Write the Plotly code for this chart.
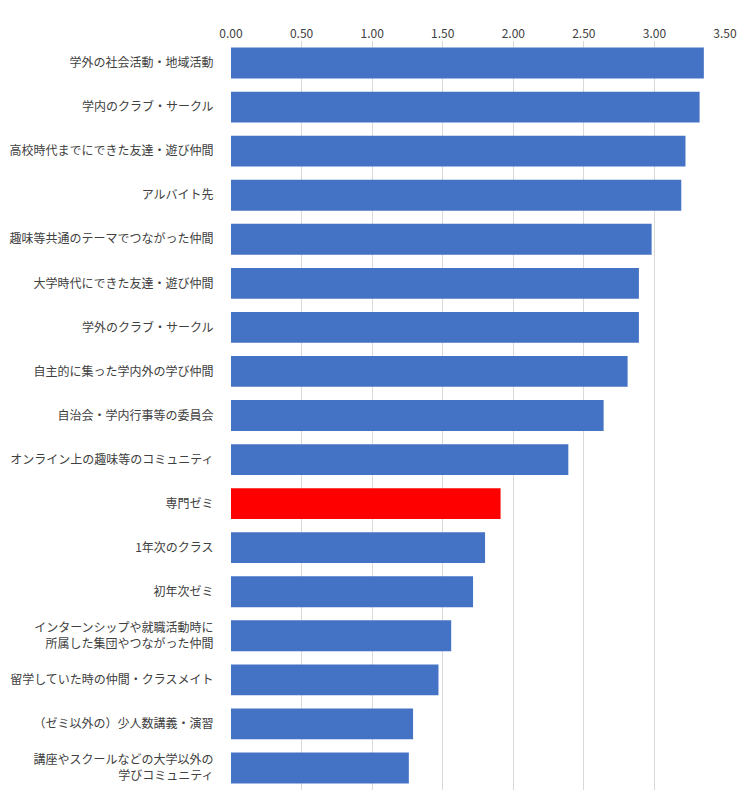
import plotly.graph_objects as go

categories = [
    "学外の社会活動・地域活動",
    "学内のクラブ・サークル",
    "高校時代までにできた友達・遊び仲間",
    "アルバイト先",
    "趣味等共通のテーマでつながった仲間",
    "大学時代にできた友達・遊び仲間",
    "学外のクラブ・サークル",
    "自主的に集った学内外の学び仲間",
    "自治会・学内行事等の委員会",
    "オンライン上の趣味等のコミュニティ",
    "専門ゼミ",
    "1年次のクラス",
    "初年次ゼミ",
    "インターンシップや就職活動時に<br>所属した集団やつながった仲間",
    "留学していた時の仲間・クラスメイト",
    "（ゼミ以外の）少人数講義・演習",
    "講座やスクールなどの大学以外の<br>学びコミュニティ",
]
values = [3.35, 3.32, 3.22, 3.19, 2.98, 2.89, 2.89, 2.81, 2.64, 2.39,
          1.91, 1.80, 1.715, 1.56, 1.47, 1.29, 1.26]
highlight = "専門ゼミ"

colors = ["#FF0000" if c == highlight else "#4472C4" for c in categories]

fig = go.Figure(go.Bar(
    x=values, y=categories, orientation="h",
    marker=dict(color=colors, line_width=0), width=0.7,
))
fig.update_layout(
    width=750, height=798,
    margin=dict(l=223, r=33, t=33, b=16, autoexpand=False),
    paper_bgcolor="white", plot_bgcolor="white",
    font=dict(family="Noto Sans CJK JP", size=12, color="#404040"),
    showlegend=False,
)
fig.update_xaxes(range=[0, 3.5], dtick=0.5, tickformat=".2f", side="top",
                 showgrid=True, gridcolor="#D9D9D9", zeroline=False,
                 ticks="", fixedrange=True, automargin=False)
fig.update_yaxes(autorange="reversed", ticks="outside", ticklen=14,
                 tickcolor="rgba(0,0,0,0)", automargin=False,
                 showline=False, showgrid=False)
fig.write_html("out.html")
